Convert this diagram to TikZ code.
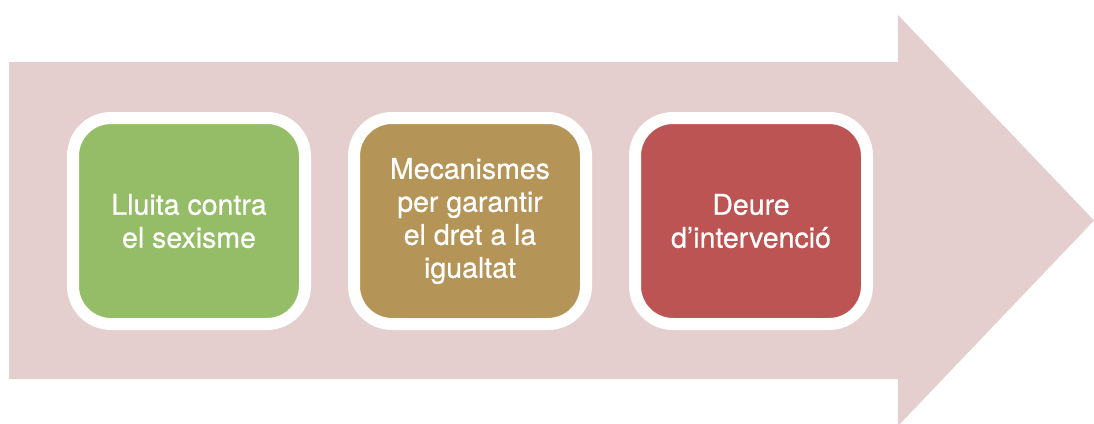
\documentclass[tikz,border=0pt]{standalone}
\usepackage{fontspec}
\setmainfont{TeX Gyre Heros}[FakeBold=0.6,AutoFakeBold=0.6]
\usepackage{xcolor}
\definecolor{arrowpink}{HTML}{E5CECE}
\definecolor{boxgreen}{HTML}{95BD67}
\definecolor{boxtan}{HTML}{B59557}
\definecolor{boxred}{HTML}{BD5454}
\begin{document}
\begin{tikzpicture}
  [x=1pt,y=-1pt,every node/.style={rectangle,rounded corners=38pt,draw=white,line width=12pt,
   minimum width=232pt,minimum height=206pt,text=white,align=center,
   font=\fontsize{28.5}{33}\selectfont\bfseries}]
  \useasboundingbox (0,0) rectangle (1094,423);
  \fill[arrowpink] (9,62) -- (898,62) -- (898,15) -- (1094,220.5) -- (898,426)
    -- (898,379) -- (9,379) -- cycle;

  \node[fill=boxgreen] (lluita) at (189,221) {Lluita contra\\el sexisme};
  \node[fill=boxtan] (mecanismes) at (470,221) {Mecanismes\\per garantir\\el dret a la\\igualtat};
  \node[fill=boxred] (deure) at (751,221) {Deure\\d’intervenció};

\end{tikzpicture}
\end{document}
